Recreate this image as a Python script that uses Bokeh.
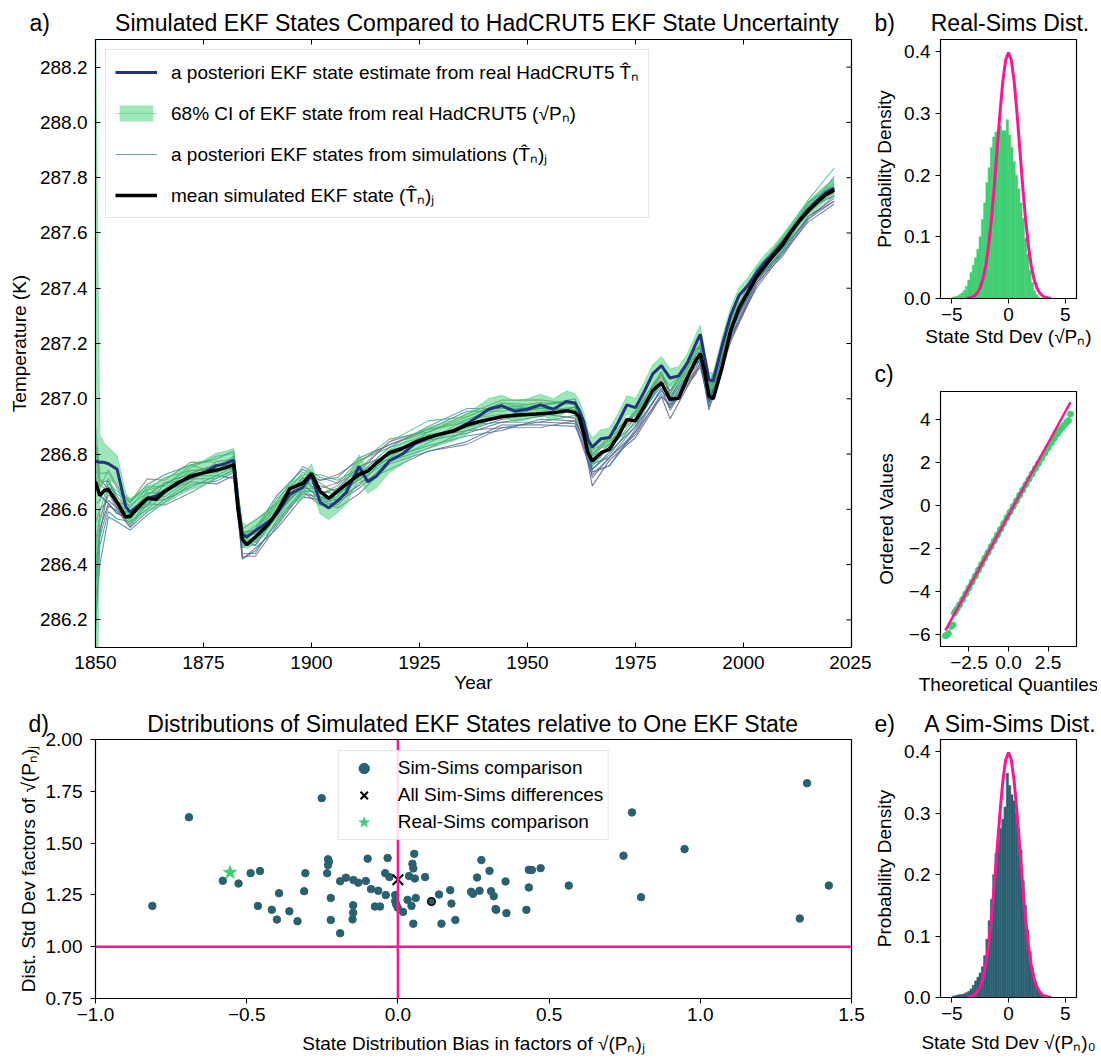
import numpy as np
from bokeh.plotting import figure
from bokeh.layouts import row, column
from bokeh.models import (Range1d, FixedTicker, NumeralTickFormatter,
                          Legend, LegendItem, Span)
from bokeh.embed import file_html
from bokeh.resources import INLINE

FONT = "Liberation Sans"
PINK = "#ff1493"
GREEN = "#3ecf72"
TEAL = "#2a6170"
NAVY = "#24337c"
EM = "\u2003"
NB = "\u00a0"
MINUS = "\u2212"

# ---------------- panel a data ----------------
YEARS = [1850, 1851, 1852, 1853, 1855, 1857, 1858, 1860, 1862, 1864, 1866, 1869, 1872, 1875, 1878,
         1880, 1882, 1883, 1884, 1885, 1887, 1890, 1892, 1895, 1898, 1900, 1902, 1904, 1906, 1908,
         1911, 1913, 1915, 1918, 1921, 1924, 1927, 1930, 1933, 1936, 1939, 1941, 1944, 1947, 1950,
         1953, 1956, 1959, 1961, 1962, 1963, 1964, 1965, 1967, 1969, 1971, 1973, 1975, 1977, 1979,
         1981, 1983, 1985, 1987, 1989, 1990, 1991, 1992, 1993, 1995, 1997, 1999, 2001, 2003, 2005,
         2007, 2009, 2011, 2013, 2015, 2017, 2019, 2021]
MEAN_T = [286.700, 286.650, 286.668, 286.672, 286.625, 286.572, 286.575, 286.608, 286.640, 286.636,
          286.665, 286.695, 286.720, 286.732, 286.742, 286.750, 286.762, 286.600, 286.490, 286.472,
          286.500, 286.545, 286.590, 286.675, 286.695, 286.730, 286.665, 286.640, 286.665, 286.690,
          286.726, 286.738, 286.768, 286.804, 286.820, 286.843, 286.860, 286.873, 286.884, 286.905,
          286.918, 286.925, 286.935, 286.940, 286.943, 286.946, 286.949, 286.957, 286.950, 286.935,
          286.875, 286.805, 286.775, 286.804, 286.818, 286.865, 286.925, 286.920, 286.972, 287.030,
          287.058, 286.998, 287.002, 287.076, 287.140, 287.163, 287.100, 287.010, 287.000, 287.110,
          287.245, 287.330, 287.385, 287.440, 287.480, 287.520, 287.555, 287.605, 287.645, 287.680,
          287.710, 287.738, 287.755]
EST_T = [286.775, 286.770, 286.770, 286.765, 286.745, 286.610, 286.590, 286.615, 286.640, 286.648,
         286.665, 286.693, 286.716, 286.732, 286.758, 286.765, 286.778, 286.625, 286.510, 286.500,
         286.522, 286.555, 286.585, 286.655, 286.680, 286.722, 286.625, 286.605, 286.630, 286.660,
         286.755, 286.700, 286.720, 286.775, 286.800, 286.838, 286.858, 286.872, 286.886, 286.910,
         286.940, 286.962, 286.975, 286.955, 286.962, 286.978, 286.962, 286.990, 286.985, 286.958,
         286.918, 286.852, 286.825, 286.855, 286.860, 286.915, 286.978, 286.968, 287.025, 287.090,
         287.120, 287.075, 287.083, 287.130, 287.200, 287.233, 287.150, 287.068, 287.065, 287.190,
         287.300, 287.375, 287.410, 287.455, 287.495, 287.527, 287.565, 287.605, 287.648, 287.686,
         287.716, 287.745, 287.762]
SIGMA = [1.60, 0.10, 0.07, 0.06, 0.05, 0.048, 0.047, 0.046, 0.045, 0.045,
         0.045, 0.045, 0.045, 0.045, 0.045, 0.045, 0.042, 0.042, 0.042, 0.042,
         0.042, 0.042, 0.042, 0.042, 0.042, 0.042, 0.042, 0.042, 0.042, 0.042,
         0.042, 0.042, 0.042, 0.042, 0.038, 0.038, 0.038, 0.038, 0.038, 0.038,
         0.038, 0.038, 0.038, 0.038, 0.038, 0.038, 0.038, 0.038, 0.033, 0.033,
         0.033, 0.033, 0.033, 0.033, 0.033, 0.033, 0.033, 0.033, 0.033, 0.033,
         0.033, 0.033, 0.033, 0.033, 0.033, 0.033, 0.028, 0.028, 0.028, 0.028,
         0.028, 0.028, 0.028, 0.028, 0.028, 0.028, 0.028, 0.028, 0.028, 0.028,
         0.028, 0.028, 0.028]

SIM_YEARS = [1850, 1851, 1853, 1855, 1858, 1862, 1866, 1872, 1878, 1882, 1884, 1887, 1892, 1898,
             1902, 1906, 1911, 1918, 1927, 1936, 1944, 1953, 1961, 1963, 1965, 1969, 1975, 1981,
             1983, 1989, 1990, 1992, 1997, 2003, 2009, 2015, 2021]
# deviations of individual simulations from the simulated mean (hundredths of a K)
SIM_DEV = [
    [20, 8, 6, 5, 3, 4, 2, 3, 5, 4, 3, 2, 4, 6, 5, 3, 5, 2, 4, 6, 3, 2, 1, 0, -1, -3, -2, 1, -2, 0, 1, 0, -1, 1, 2, 0, 5],
    [-45, -15, -6, -3, -4, -2, -5, -6, -3, -2, -5, -6, -3, -4, -2, -5, -3, -6, -5, -7, -4, -5, -3, -2, -4, -6, -3, -2, -4, -3, -1, -2, -3, -2, -1, -3, -2],
    [-30, -10, 2, 4, 6, 3, 5, 2, 1, 3, 0, 2, 5, 3, 6, 4, 2, 4, 6, 3, 5, 1, 2, 4, 3, 2, 4, 3, 5, 2, 3, 4, 1, 2, 3, 4, 8],
    [-15, -5, -4, -2, -3, -1, -3, -4, -2, -5, -7, -4, -6, -5, -3, -6, -7, -4, -5, -6, -3, -4, -5, -4, -6, -3, -5, -4, -3, -5, -4, -3, -2, -4, -3, -2, -3],
    [5, 3, 7, 6, 5, 7, 4, 5, 3, 2, 4, 6, 3, 2, 4, 6, 5, 3, 2, 4, 6, 5, 3, 5, 4, 3, 1, 2, 3, 1, 0, 2, 1, 0, 2, 1, -1],
    [-55, -18, -8, -6, -2, -4, -1, 0, -2, -1, -2, -3, -1, 0, -3, -2, 0, 2, 1, -1, 0, 2, 0, -1, -3, -2, 0, -1, 1, 0, -2, -1, 0, 1, -1, 0, 1],
    [12, 5, 3, 1, 0, -2, 1, 2, 0, 1, 2, 1, -1, 1, 2, 0, -2, 1, -1, 2, 1, -1, 2, 1, 0, 2, 3, 1, 0, 2, 1, 3, 2, 0, 1, -1, 0],
    [-35, -12, -5, -4, -1, 1, 3, 1, 2, -1, 1, -2, 0, 2, -1, 1, 3, -1, 0, -2, -1, 0, -2, -3, -9, -4, -6, -5, -7, -4, -3, -5, -4, -3, -2, -2, -4],
    [-8, -2, 4, 2, 2, 0, -2, -1, -3, -2, -3, -1, -2, -3, 0, -1, -2, -3, -2, 0, -2, -3, -1, -1, -2, 1, -1, 0, -1, -2, -2, 0, 2, 1, 0, 1, 2],
    [-22, -8, -2, 0, 4, 2, 0, -2, 3, 2, 1, 3, 1, -2, 1, 3, 1, 4, 3, 1, 3, 4, 3, 2, 1, 4, 2, 3, 2, 3, 4, 1, 0, -1, 1, 2, 3],
    [-50, -25, -10, -7, -5, -6, -4, -3, -4, -3, -7, -5, -4, -2, -4, -3, -1, -2, -3, -4, -5, -2, -3, -5, -4, -6, -4, -2, -3, -1, -2, -4, -2, -1, -3, -4, -5],
    [8, 4, -1, -3, 1, 2, -1, 1, -1, 0, 2, 4, 2, 1, -1, 2, 4, 5, 2, 3, 5, 3, 4, 3, 2, 0, 1, 3, 2, 4, 3, 1, 3, 2, 0, 3, 4],
    [-38, -14, 1, 3, 5, 5, 6, 4, 4, 5, 2, 3, 6, 5, 4, 5, 6, 3, 3, 5, 2, 3, 5, 3, 2, 5, 3, 4, 3, 4, 2, 3, 4, 3, 2, 3, 2],
    [15, 6, 0, -2, -4, -5, -3, -2, -5, -4, -6, -7, -5, -3, -5, -4, -5, -3, -4, -2, -4, -3, -4, -6, -5, -3, -4, -5, -2, -4, -5, -2, -3, -2, -4, -3, -4],
    [-25, -6, 3, 1, -2, 3, 2, 4, -1, 3, -1, 0, 3, 4, 3, -1, 1, -2, 2, 2, 4, 2, 1, 2, -1, 1, 3, 4, 1, 2, 2, 2, -1, 3, 2, 2, 1],
    [2, 0, -5, -4, 2, -3, 3, -1, 2, -2, 0, -3, -1, -1, -2, -3, -4, 0, -1, -3, -2, -1, 2, -2, -3, -1, -2, -3, 0, -1, -3, -2, 0, -1, -2, 1, -2],
]
SIM_COLORS = ["#4f8f9e", "#7a6a8a", "#35b779", "#3e6f9e", "#8b7d5a", "#21918c",
              "#5f9a5a", "#5d4e7d", "#2e9e7e", "#9a6f82", "#2f7f9f", "#58a16b",
              "#26828e", "#6e5c8a", "#43a86e", "#31688e"]

# ---------------- panel b data ----------------
B_BIN_START = -5.0
BIN_W = 0.2
REAL_SIMS_HIST = [0.002, 0.003, 0.004, 0.006, 0.009, 0.013, 0.020, 0.030, 0.042, 0.054,
                  0.066, 0.080, 0.100, 0.128, 0.155, 0.188, 0.212, 0.245, 0.262, 0.270,
                  0.275, 0.280, 0.272, 0.272, 0.290, 0.265, 0.245, 0.222, 0.200, 0.178,
                  0.155, 0.130, 0.098, 0.072, 0.046, 0.026, 0.013, 0.006, 0.002]
NORM_X = [-3.75, -3.5, -3.25, -3.0, -2.75, -2.5, -2.25, -2.0, -1.75, -1.5, -1.25, -1.0, -0.75,
          -0.5, -0.25, 0.0, 0.25, 0.5, 0.75, 1.0, 1.25, 1.5, 1.75, 2.0, 2.25, 2.5, 2.75, 3.0,
          3.25, 3.5, 3.75]
NORM_Y = [0.0004, 0.0009, 0.0020, 0.0044, 0.0091, 0.0175, 0.0317, 0.0540, 0.0863, 0.1295,
          0.1826, 0.2420, 0.3011, 0.3521, 0.3867, 0.3989, 0.3867, 0.3521, 0.3011, 0.2420,
          0.1826, 0.1295, 0.0863, 0.0540, 0.0317, 0.0175, 0.0091, 0.0044, 0.0020, 0.0009, 0.0004]

# ---------------- panel c data ----------------
QQ_X = [-3.99, -3.9, -3.8, -3.62, -3.5, -3.42, -3.35, -3.25, -3.1, -2.9, -2.7, -2.5, -2.3, -2.1,
        -1.9, -1.7, -1.5, -1.3, -1.1, -0.9, -0.7, -0.5, -0.3, -0.1, 0.1, 0.3, 0.5, 0.7, 0.9,
        1.1, 1.3, 1.5, 1.7, 1.9, 2.1, 2.3, 2.5, 2.7, 2.9, 3.1, 3.25, 3.4, 3.55, 3.7, 3.8, 3.92]
QQ_Y = [-6.05, -6.02, -5.95, -5.62, -5.55, -5.0, -4.9, -4.8, -4.62, -4.37, -4.1, -3.83, -3.55,
        -3.28, -3.0, -2.73, -2.45, -2.18, -1.91, -1.64, -1.37, -1.1, -0.83, -0.56, -0.3, -0.04,
        0.22, 0.48, 0.73, 0.98, 1.23, 1.48, 1.72, 1.96, 2.2, 2.44, 2.67, 2.9, 3.12, 3.33, 3.5,
        3.63, 3.75, 3.88, 3.95, 4.25]
QQ_LINE_X = [-3.99, 3.92]
QQ_LINE_Y = [-5.8, 4.8]

# ---------------- panel d data ----------------
SIM_BIAS = [-0.812, -0.691, -0.252, -0.579, -0.527, -0.487, -0.456, -0.463, -0.417, -0.400,
            -0.393, -0.359, -0.332, -0.306, -0.310, -0.231, -0.228, -0.231, -0.234, -0.222,
            -0.222, -0.191, -0.191, -0.172, -0.147, -0.131, -0.106, -0.148, -0.148, -0.150,
            -0.100, -0.089, -0.076, -0.059, -0.065, -0.040, -0.034, -0.042, -0.028, -0.009,
            -0.009, -0.006, -0.001, 0.017, 0.032, 0.037, 0.045, 0.048, 0.051, 0.054,
            0.056, 0.059, 0.051, 0.090, 0.136, 0.144, 0.173, 0.177, 0.190, 0.242,
            0.248, 0.262, 0.276, 0.270, 0.303, 0.308, 0.317, 0.323, 1.353, 0.774,
            0.948, 0.746, 1.425, 1.329, 0.804, 0.565, 0.472, 0.433, 0.443, 0.433,
            0.425, 0.359, 0.325, 0.356]
SIM_STD = [1.197, 1.625, 1.717, 1.318, 1.305, 1.355, 1.365, 1.197, 1.178, 1.131,
           1.258, 1.171, 1.123, 1.355, 1.268, 1.422, 1.410, 1.394, 1.355, 1.235,
           1.129, 1.065, 1.316, 1.333, 1.322, 1.309, 1.317, 1.200, 1.164, 1.132,
           1.425, 1.278, 1.194, 1.194, 1.270, 1.249, 1.428, 1.355, 1.336, 1.249,
           1.220, 1.205, 1.189, 1.168, 1.226, 1.341, 1.197, 1.400, 1.378, 1.448,
           1.329, 1.235, 1.111, 1.336, 1.252, 1.111, 1.273, 1.208, 1.129, 1.265,
           1.255, 1.334, 1.418, 1.270, 1.366, 1.268, 1.244, 1.182, 1.789, 1.648,
           1.471, 1.439, 1.295, 1.136, 1.239, 1.295, 1.379, 1.371, 1.370, 1.286,
           1.178, 1.162, 1.178, 1.315]
HIGHLIGHT_BIAS = [0.111]
HIGHLIGHT_STD = [1.218]
ALL_SIMS_BIAS = [0.0]
ALL_SIMS_STD = [1.323]
REAL_SIMS_BIAS = [-0.555]
REAL_SIMS_STD = [1.358]

# ---------------- panel e data ----------------
E_BIN_START = -5.0
SIM_SIMS_HIST = [0.002, 0.003, 0.004, 0.005, 0.005, 0.006, 0.008, 0.010, 0.014, 0.020,
                 0.027, 0.033, 0.040, 0.050, 0.068, 0.095, 0.125, 0.160, 0.200, 0.235,
                 0.255, 0.275, 0.290, 0.310, 0.365, 0.345, 0.330, 0.320, 0.300, 0.275,
                 0.240, 0.190, 0.150, 0.110, 0.075, 0.048, 0.030, 0.018, 0.011, 0.007,
                 0.004, 0.003, 0.002, 0.001]


def base_fig(fw, fh, bl, br, bt, bb, xr, yr, title, offset, standoff):
    p = figure(frame_width=fw, frame_height=fh,
               min_border_left=bl, min_border_right=br, min_border_top=bt, min_border_bottom=bb,
               x_range=Range1d(*xr), y_range=Range1d(*yr),
               output_backend="svg", toolbar_location=None, tools="")
    p.xgrid.grid_line_color = None
    p.ygrid.grid_line_color = None
    p.outline_line_color = "black"
    p.outline_line_width = 1.2
    p.background_fill_color = "white"
    p.border_fill_color = "white"
    p.title.text = title
    p.title.align = "left"
    p.title.offset = offset
    p.title.text_font = FONT
    p.title.text_font_size = "23px"
    p.title.text_font_style = "normal"
    p.title.text_color = "black"
    p.title.standoff = standoff
    return p


def style_axis(ax, ticks, label="", fmt=None, overrides=None, inward=False,
               tick_standoff=4, label_standoff=2):
    ax.ticker = FixedTicker(ticks=ticks)
    if fmt is not None:
        ax.formatter = NumeralTickFormatter(format=fmt)
    if overrides:
        ax.major_label_overrides = overrides
    ax.axis_label = label
    ax.major_label_text_font = FONT
    ax.major_label_text_font_size = "19px"
    ax.major_label_text_color = "black"
    ax.axis_label_text_font = FONT
    ax.axis_label_text_font_size = "19px"
    ax.axis_label_text_font_style = "normal"
    ax.axis_label_text_color = "black"
    ax.axis_label_standoff = label_standoff
    ax.minor_tick_line_color = None
    ax.axis_line_color = "black"
    ax.major_tick_line_color = "black"
    ax.major_tick_line_width = 1
    if inward:
        ax.major_tick_in = 5
        ax.major_tick_out = 0
    else:
        ax.major_tick_in = 0
        ax.major_tick_out = 5
    ax.major_label_standoff = tick_standoff


# ================= panel a =================
XR_A = (1850, 2025)
YR_A = (286.1, 288.3)
FW_A, FH_A = 756, 608
pa = base_fig(FW_A, FH_A, 95, 20, 39, 53, XR_A, YR_A,
              "a)" + EM + EM + NB + NB + NB +
              "Simulated EKF States Compared to HadCRUT5 EKF State Uncertainty", -66, 7)
X_TICKS_A = [1850, 1875, 1900, 1925, 1950, 1975, 2000, 2025]
Y_TICKS_A = [286.2, 286.4, 286.6, 286.8, 287.0, 287.2, 287.4, 287.6, 287.8, 288.0, 288.2]
style_axis(pa.xaxis[0], X_TICKS_A, "Year", fmt="0", inward=True, tick_standoff=8, label_standoff=0)
style_axis(pa.yaxis[0], Y_TICKS_A, "Temperature (K)", fmt="0.0", inward=True, tick_standoff=8,
           label_standoff=7)
# inward ticks on the top and right spines (5 px long)
dy_tick = 5 * (YR_A[1] - YR_A[0]) / FH_A
dx_tick = 5 * (XR_A[1] - XR_A[0]) / FW_A
pa.segment(x0=X_TICKS_A, y0=[YR_A[1]] * len(X_TICKS_A), x1=X_TICKS_A,
           y1=[YR_A[1] - dy_tick] * len(X_TICKS_A), line_color="black", line_width=1)
pa.segment(x0=[XR_A[1]] * len(Y_TICKS_A), y0=Y_TICKS_A, x1=[XR_A[1] - dx_tick] * len(Y_TICKS_A),
           y1=Y_TICKS_A, line_color="black", line_width=1)

mean_at = dict(zip(YEARS, MEAN_T))
sim_rs = []
for k, dev in enumerate(SIM_DEV):
    ys = [mean_at[yr] + d / 100.0 for yr, d in zip(SIM_YEARS, dev)]
    r = pa.line(SIM_YEARS, ys, line_color=SIM_COLORS[k % len(SIM_COLORS)], line_width=1.1,
                line_alpha=0.8)
    sim_rs.append(r)

upper = [e + s for e, s in zip(EST_T, SIGMA)]
lower = [e - s for e, s in zip(EST_T, SIGMA)]
band_r = pa.varea(x=YEARS, y1=lower, y2=upper, fill_color=GREEN, fill_alpha=0.5)
band_edge = pa.line(YEARS, upper, line_color=GREEN, line_alpha=0.5, line_width=1)
pa.line(YEARS, lower, line_color=GREEN, line_alpha=0.5, line_width=1)
blue_r = pa.line(YEARS, EST_T, line_color=NAVY, line_width=3)
black_r = pa.line(YEARS, MEAN_T, line_color="black", line_width=3.5)

leg_a = Legend(items=[
    LegendItem(label="a posteriori EKF state estimate from real HadCRUT5 T\u0302\u2099", renderers=[blue_r]),
    LegendItem(label="68% CI of EKF state from real HadCRUT5 (\u221aP\u2099)", renderers=[band_r, band_edge]),
    LegendItem(label="a posteriori EKF states from simulations (T\u0302\u2099)\u2c7c", renderers=[sim_rs[0]]),
    LegendItem(label="mean simulated EKF state (T\u0302\u2099)\u2c7c", renderers=[black_r]),
], location="top_left")
leg_a.label_text_font = FONT
leg_a.label_text_font_size = "19px"
leg_a.label_text_color = "black"
leg_a.glyph_width = 42
leg_a.glyph_height = 20
leg_a.label_standoff = 14
leg_a.label_height = 24
leg_a.spacing = 15
leg_a.padding = 9
leg_a.margin = 10
leg_a.border_line_color = "#cccccc"
leg_a.border_line_width = 1
leg_a.background_fill_alpha = 0.85
pa.add_layout(leg_a)

# ================= panel b =================
pb = base_fig(136, 259, 68, 22, 39, 55, (-6, 6), (0, 0.42),
              "b)" + EM + NB + NB + "Real-Sims Dist.", -66, 7)
style_axis(pb.xaxis[0], [-5, 0, 5], "State Std Dev (\u221aP\u2099)", fmt="0",
           overrides={-5: MINUS + "5"})
style_axis(pb.yaxis[0], [0.0, 0.1, 0.2, 0.3, 0.4], "Probability Density", fmt="0.0",
           tick_standoff=5, label_standoff=6)
b_left = [B_BIN_START + i * BIN_W for i in range(len(REAL_SIMS_HIST))]
b_right = [l + BIN_W for l in b_left]
pb.quad(left=b_left, right=b_right, bottom=0, top=REAL_SIMS_HIST, fill_color=GREEN,
        line_color=GREEN, line_width=0.5)
pb.line(NORM_X, NORM_Y, line_color=PINK, line_width=3)

# ================= panel c =================
pc = base_fig(136, 255, 68, 22, 37, 55, (-4.3, 4.3), (-6.55, 5.3), "c)", -66, 10)
style_axis(pc.xaxis[0], [-2.5, 0.0, 2.5], "Theoretical Quantiles", fmt="0.0",
           overrides={-2.5: MINUS + "2.5"})
style_axis(pc.yaxis[0], [-6, -4, -2, 0, 2, 4], "Ordered Values", fmt="0",
           overrides={-6: MINUS + "6", -4: MINUS + "4", -2: MINUS + "2"},
           tick_standoff=5, label_standoff=9)
pc.line(QQ_X[5:43], QQ_Y[5:43], line_color=GREEN, line_width=5)
pc.scatter(QQ_X, QQ_Y, size=6, fill_color=GREEN, line_color=GREEN)
pc.line(QQ_LINE_X, QQ_LINE_Y, line_color=PINK, line_width=2.5)

# ================= panel d =================
pd_ = base_fig(756, 259, 95, 20, 37, 66, (-1.0, 1.5), (0.75, 2.0),
               "d)" + EM + EM + EM + EM + NB +
               "Distributions of Simulated EKF States relative to One EKF State", -67, 6)
style_axis(pd_.xaxis[0], [-1.0, -0.5, 0.0, 0.5, 1.0, 1.5],
           "State Distribution Bias in factors of \u221a(P\u2099)\u2c7c", fmt="0.0",
           overrides={-1.0: MINUS + "1.0", -0.5: MINUS + "0.5"}, tick_standoff=4, label_standoff=9)
style_axis(pd_.yaxis[0], [0.75, 1.0, 1.25, 1.5, 1.75, 2.0],
           "Dist. Std Dev factors of \u221a(P\u2099)\u2c7c", fmt="0.00", tick_standoff=8,
           label_standoff=4)
pd_.add_layout(Span(location=0, dimension="height", line_color=PINK, line_width=2.5))
pd_.add_layout(Span(location=1, dimension="width", line_color=PINK, line_width=2.5))
r_sims = pd_.scatter(SIM_BIAS, SIM_STD, size=7.5, fill_color=TEAL, line_color=TEAL)
pd_.scatter(HIGHLIGHT_BIAS, HIGHLIGHT_STD, size=7.5, fill_color=TEAL, line_color="black",
            line_width=1.5)
r_all = pd_.scatter(ALL_SIMS_BIAS, ALL_SIMS_STD, marker="x", size=15, line_color="black",
                    line_width=2)
r_real = pd_.scatter(REAL_SIMS_BIAS, REAL_SIMS_STD, marker="star", size=14, fill_color=GREEN,
                     line_color=GREEN)
leg_d = Legend(items=[
    LegendItem(label="Sim-Sims comparison", renderers=[r_sims]),
    LegendItem(label="All Sim-Sims differences", renderers=[r_all]),
    LegendItem(label="Real-Sims comparison", renderers=[r_real]),
], location="top_center")
leg_d.label_text_font = FONT
leg_d.label_text_font_size = "19px"
leg_d.label_text_color = "black"
leg_d.glyph_width = 42
leg_d.glyph_height = 26
leg_d.label_standoff = 13
leg_d.label_height = 20
leg_d.spacing = 1
leg_d.padding = 4
leg_d.margin = 11
leg_d.border_line_color = "#cccccc"
leg_d.background_fill_alpha = 0.85
pd_.add_layout(leg_d)

# ================= panel e =================
pe = base_fig(136, 258, 68, 22, 38, 66, (-6, 6), (0, 0.42),
              "e)" + EM + NB + "A Sim-Sims Dist.", -66, 5)
style_axis(pe.xaxis[0], [-5, 0, 5], "State Std Dev \u221a(P\u2099)\u2080", fmt="0",
           overrides={-5: MINUS + "5"}, tick_standoff=4, label_standoff=9)
style_axis(pe.yaxis[0], [0.0, 0.1, 0.2, 0.3, 0.4], "Probability Density", fmt="0.0",
           tick_standoff=5, label_standoff=6)
e_left = [E_BIN_START + i * BIN_W for i in range(len(SIM_SIMS_HIST))]
e_right = [l + BIN_W for l in e_left]
pe.quad(left=e_left, right=e_right, bottom=0, top=SIM_SIMS_HIST, fill_color=TEAL,
        line_color=TEAL, line_width=0.5)
pe.line(NORM_X, NORM_Y, line_color=PINK, line_width=3)

layout = column(row(pa, column(pb, pc)), row(pd_, pe))
open("out.html", "w").write(file_html(layout, INLINE, title="EKF states"))
